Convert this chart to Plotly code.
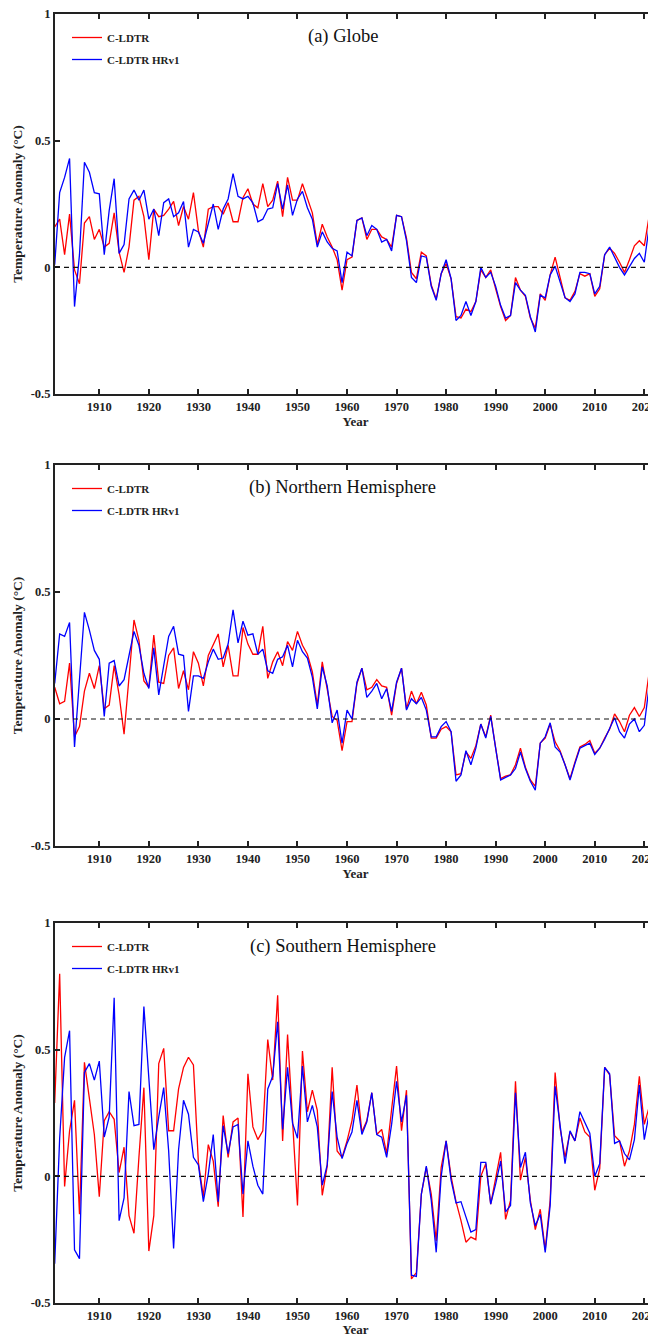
import plotly.graph_objects as go

# ---------------- data ----------------
years = list(range(1901, 2024))

globe_cldtr = [
    0.16, 0.19, 0.05, 0.21, -0.01, -0.065, 0.175, 0.20, 0.11, 0.15,
    0.08, 0.095, 0.215, 0.06, -0.02, 0.08, 0.265, 0.28, 0.20, 0.03,
    0.23, 0.20, 0.205, 0.23, 0.26, 0.165, 0.24, 0.19, 0.295, 0.145,
    0.08, 0.23, 0.24, 0.24, 0.21, 0.255, 0.18, 0.18, 0.275, 0.31,
    0.25, 0.235, 0.33, 0.24, 0.265, 0.34, 0.20, 0.355, 0.265, 0.265,
    0.33, 0.27, 0.215, 0.09, 0.17, 0.12, 0.08, 0.03, -0.09, 0.03,
    0.04, 0.185, 0.195, 0.11, 0.15, 0.15, 0.12, 0.11, 0.08, 0.205,
    0.20, 0.115, -0.02, -0.045, 0.06, 0.045, -0.07, -0.125, -0.025, 0.015,
    -0.045, -0.195, -0.20, -0.165, -0.175, -0.135, -0.01, -0.04, -0.01, -0.085,
    -0.155, -0.21, -0.19, -0.04, -0.09, -0.115, -0.20, -0.24, -0.105, -0.13,
    -0.03, 0.04, -0.045, -0.12, -0.13, -0.095, -0.025, -0.035, -0.025, -0.115,
    -0.085, 0.05, 0.075, 0.055, 0.02, -0.02, 0.03, 0.085, 0.105, 0.085,
    0.205, 0.145, 0.26,
]
globe_hrv1 = [
    0.01, 0.295, 0.355, 0.43, -0.155, 0.05, 0.415, 0.375, 0.295, 0.29,
    0.05, 0.225, 0.35, 0.055, 0.09, 0.27, 0.305, 0.265, 0.305, 0.19,
    0.23, 0.125, 0.255, 0.27, 0.20, 0.215, 0.26, 0.08, 0.15, 0.14,
    0.095, 0.175, 0.25, 0.15, 0.23, 0.27, 0.37, 0.28, 0.27, 0.28,
    0.255, 0.18, 0.19, 0.23, 0.235, 0.33, 0.23, 0.325, 0.205, 0.27,
    0.30, 0.235, 0.19, 0.08, 0.14, 0.10, 0.075, 0.065, -0.06, 0.06,
    0.045, 0.185, 0.195, 0.125, 0.165, 0.15, 0.10, 0.11, 0.065, 0.205,
    0.20, 0.105, -0.04, -0.06, 0.045, 0.04, -0.075, -0.13, -0.025, 0.03,
    -0.045, -0.21, -0.19, -0.135, -0.19, -0.135, 0.0, -0.04, -0.02, -0.075,
    -0.15, -0.20, -0.19, -0.06, -0.09, -0.11, -0.195, -0.255, -0.11, -0.12,
    -0.03, 0.005, -0.06, -0.12, -0.135, -0.105, -0.02, -0.02, -0.025, -0.105,
    -0.075, 0.05, 0.08, 0.04, 0.0, -0.03, 0.0, 0.035, 0.055, 0.02,
    0.165, 0.085, 0.20,
]

nh_cldtr = [
    0.125, 0.06, 0.07, 0.22, -0.07, -0.03, 0.11, 0.18, 0.12, 0.21,
    0.04, 0.055, 0.21, 0.095, -0.06, 0.18, 0.39, 0.31, 0.15, 0.125,
    0.33, 0.145, 0.14, 0.25, 0.28, 0.12, 0.19, 0.115, 0.265, 0.22,
    0.13, 0.25, 0.29, 0.335, 0.205, 0.29, 0.17, 0.17, 0.36, 0.295,
    0.255, 0.255, 0.365, 0.16, 0.225, 0.265, 0.21, 0.305, 0.27, 0.345,
    0.29, 0.255, 0.185, 0.055, 0.225, 0.125, 0.01, -0.005, -0.125, -0.01,
    -0.01, 0.14, 0.20, 0.115, 0.125, 0.155, 0.13, 0.125, 0.015, 0.14,
    0.20, 0.04, 0.11, 0.06, 0.105, 0.055, -0.075, -0.075, -0.04, -0.03,
    -0.05, -0.22, -0.215, -0.13, -0.155, -0.105, -0.02, -0.07, 0.015, -0.115,
    -0.235, -0.225, -0.22, -0.18, -0.115, -0.19, -0.24, -0.265, -0.095, -0.075,
    -0.02, -0.09, -0.125, -0.18, -0.235, -0.17, -0.11, -0.10, -0.085, -0.135,
    -0.115, -0.075, -0.04, 0.02, -0.01, -0.05, 0.015, 0.045, 0.01, 0.045,
    0.185, 0.13, 0.14,
]
nh_hrv1 = [
    0.14, 0.335, 0.325, 0.38, -0.11, 0.14, 0.42, 0.35, 0.27, 0.235,
    0.01, 0.22, 0.23, 0.13, 0.155, 0.25, 0.345, 0.29, 0.18, 0.12,
    0.28, 0.095, 0.215, 0.325, 0.365, 0.255, 0.25, 0.03, 0.17, 0.17,
    0.16, 0.225, 0.275, 0.235, 0.24, 0.295, 0.43, 0.30, 0.385, 0.33,
    0.335, 0.255, 0.275, 0.19, 0.18, 0.235, 0.245, 0.29, 0.205, 0.31,
    0.265, 0.24, 0.165, 0.04, 0.205, 0.13, -0.015, 0.035, -0.095, 0.035,
    0.0, 0.145, 0.20, 0.085, 0.11, 0.14, 0.08, 0.12, 0.03, 0.145,
    0.20, 0.035, 0.08, 0.06, 0.085, 0.035, -0.07, -0.07, -0.03, -0.01,
    -0.05, -0.245, -0.22, -0.125, -0.18, -0.115, -0.02, -0.075, 0.01, -0.115,
    -0.24, -0.23, -0.22, -0.195, -0.13, -0.195, -0.245, -0.28, -0.095, -0.07,
    -0.015, -0.11, -0.13, -0.18, -0.24, -0.175, -0.115, -0.105, -0.095, -0.14,
    -0.115, -0.08, -0.04, 0.005, -0.05, -0.075, -0.02, 0.0, -0.05, -0.025,
    0.135, 0.065, 0.08,
]

sh_cldtr = [
    0.29, 0.80, -0.04, 0.18, 0.30, -0.15, 0.45, 0.31, 0.165, -0.08,
    0.22, 0.255, 0.225, 0.015, 0.115, -0.155, -0.225, 0.075, 0.35, -0.295,
    -0.155, 0.445, 0.505, 0.18, 0.18, 0.345, 0.43, 0.47, 0.44, 0.055,
    -0.08, 0.125, 0.06, -0.12, 0.24, 0.075, 0.215, 0.23, -0.16, 0.405,
    0.195, 0.145, 0.18, 0.54, 0.38, 0.715, 0.14, 0.56, 0.235, -0.115,
    0.495, 0.255, 0.34, 0.26, -0.075, 0.04, 0.43, 0.10, 0.075, 0.14,
    0.22, 0.36, 0.175, 0.22, 0.33, 0.165, 0.185, 0.09, 0.265, 0.435,
    0.18, 0.34, -0.405, -0.38, -0.07, 0.035, -0.07, -0.255, 0.035, 0.14,
    0.0, -0.10, -0.175, -0.26, -0.24, -0.25, 0.0, 0.05, -0.11, 0.0,
    0.095, -0.17, -0.095, 0.375, -0.015, 0.075, -0.095, -0.21, -0.13, -0.29,
    -0.095, 0.41, 0.19, 0.075, 0.175, 0.14, 0.23, 0.175, 0.155, -0.055,
    0.03, 0.43, 0.40, 0.16, 0.14, 0.04, 0.10, 0.205, 0.395, 0.205,
    0.275, 0.195, 0.50,
]
sh_hrv1 = [
    -0.345, 0.15, 0.47, 0.575, -0.29, -0.325, 0.41, 0.445, 0.38, 0.455,
    0.155, 0.235, 0.705, -0.175, -0.085, 0.335, 0.20, 0.205, 0.67, 0.405,
    0.105, 0.235, 0.35, 0.10, -0.285, 0.105, 0.30, 0.245, 0.075, 0.045,
    -0.10, 0.01, 0.165, -0.10, 0.20, 0.09, 0.195, 0.205, -0.07, 0.14,
    0.04, -0.035, -0.07, 0.345, 0.395, 0.61, 0.185, 0.43, 0.21, 0.15,
    0.435, 0.215, 0.28, 0.195, -0.035, 0.045, 0.335, 0.155, 0.07, 0.13,
    0.175, 0.30, 0.165, 0.215, 0.33, 0.165, 0.155, 0.075, 0.205, 0.375,
    0.215, 0.32, -0.39, -0.395, -0.07, 0.04, -0.095, -0.30, 0.0, 0.14,
    -0.015, -0.105, -0.10, -0.16, -0.22, -0.21, 0.055, 0.055, -0.11, -0.03,
    0.06, -0.14, -0.115, 0.33, 0.035, 0.095, -0.105, -0.195, -0.15, -0.30,
    -0.115, 0.355, 0.19, 0.05, 0.18, 0.14, 0.255, 0.215, 0.17, 0.0,
    0.05, 0.43, 0.405, 0.13, 0.14, 0.09, 0.065, 0.145, 0.36, 0.145,
    0.25, 0.15, 0.30,
]

panel_titles = ["(a) Globe", "(b) Northern Hemisphere", "(c) Southern Hemisphere"]
series_names = ["C-LDTR", "C-LDTR HRv1"]
x_tickvals = [1910, 1920, 1930, 1940, 1950, 1960, 1970, 1980, 1990, 2000, 2010, 2020]
y_tickvals = [-0.5, 0, 0.5, 1]
y_ticktext = ["-0.5", "0", "0.5", "1"]

# ---------------- layout geometry ----------------
# The page body has an 8 px default margin, so all reference positions are
# shifted by OFF and the figure is sized to the remaining window area.
OFF = 8
W, H = 656 - OFF, 1337 - OFF
ML, MR = 55 - OFF, 0
MT = 14 - OFF
MB = H - (1303 - OFF)
PW, PH = W - ML - MR, H - MT - MB


def py(ref_y):
    """reference-picture y pixel -> paper fraction"""
    return (H - MB - (ref_y - OFF)) / PH


def pxf(ref_x):
    """reference-picture x pixel -> paper fraction"""
    return ((ref_x - OFF) - ML) / PW


# (top px, bottom px) of each panel in the reference picture
panel_px = [(14, 394), (465, 846), (923, 1303)]
SERIF = "Liberation Serif"
AX = "#222222"
RED, BLUE = "#ff0000", "#0000ff"

panels = [
    (globe_cldtr, globe_hrv1),
    (nh_cldtr, nh_hrv1),
    (sh_cldtr, sh_hrv1),
]

fig = go.Figure()
for i, (red_vals, blue_vals) in enumerate(panels):
    n = i + 1
    xa = "x" if n == 1 else f"x{n}"
    ya = "y" if n == 1 else f"y{n}"
    leg = "legend" if n == 1 else f"legend{n}"
    fig.add_trace(go.Scatter(
        x=years, y=red_vals, mode="lines", name=series_names[0],
        line=dict(color=RED, width=1.3), xaxis=xa, yaxis=ya,
        legend=leg, legendgroup=f"r{n}", cliponaxis=True))
    fig.add_trace(go.Scatter(
        x=years, y=blue_vals, mode="lines", name=series_names[1],
        line=dict(color=BLUE, width=1.3), xaxis=xa, yaxis=ya,
        legend=leg, legendgroup=f"b{n}", cliponaxis=True))

layout = dict(
    width=W, height=H,
    margin=dict(l=ML, r=MR, t=MT, b=MB, pad=0, autoexpand=False),
    paper_bgcolor="white", plot_bgcolor="white",
    font=dict(family=SERIF, color="#111111"),
    shapes=[], annotations=[],
)

for i in range(3):
    n = i + 1
    top, bot = panel_px[i]
    dom = [py(bot), py(top)]
    xkey = "xaxis" if n == 1 else f"xaxis{n}"
    ykey = "yaxis" if n == 1 else f"yaxis{n}"
    xid = "x" if n == 1 else f"x{n}"
    yid = "y" if n == 1 else f"y{n}"
    layout[xkey] = dict(
        domain=[0, 1], anchor=yid, range=[1901.06, 2022.36], automargin=False,
        tickvals=x_tickvals, ticks="inside", ticklen=5, tickwidth=1.5,
        tickcolor=AX, showline=True, linewidth=2, linecolor=AX,
        mirror="ticks", showgrid=False, zeroline=False,
        ticklabeloverflow="allow",
        tickfont=dict(family=SERIF, size=12.5, weight="bold", color="#222"),
        title=dict(text="Year", standoff=3,
                   font=dict(family=SERIF, size=13, weight="bold", color="#222")),
    )
    layout[ykey] = dict(
        domain=dom, anchor=xid, range=[-0.5, 1], automargin=False,
        tickvals=y_tickvals, ticktext=y_ticktext, ticks="inside",
        ticklen=5, tickwidth=1.5, tickcolor=AX,
        showline=True, linewidth=2, linecolor=AX, mirror=False,
        showgrid=False, zeroline=False, ticklabeloverflow="allow",
        tickfont=dict(family=SERIF, size=12.5, weight="bold", color="#222"),
        title=dict(text="Temperature Anomaly (°C)", standoff=5,
                   font=dict(family=SERIF, size=13.5, weight="bold", color="#222")),
    )
    # right-hand tick marks without a border line
    rkey = f"yaxis{n + 3}"
    layout[rkey] = dict(
        overlaying=yid, anchor=xid, side="right", range=[-0.5, 1],
        automargin=False,
        tickvals=y_tickvals, ticks="inside", ticklen=5, tickwidth=1.5,
        tickcolor=AX, showticklabels=False, showline=False,
        showgrid=False, zeroline=False,
    )
    # dashed zero line
    layout["shapes"].append(dict(
        type="line", xref=f"{xid} domain", yref=yid, x0=0, x1=1, y0=0, y1=0,
        line=dict(color="#111", width=1.2, dash="5px,4px"), layer="above"))
    # panel title
    layout["annotations"].append(dict(
        text=panel_titles[i], xref="paper", yref="paper",
        x=pxf(342.5), y=py(top + 23), xanchor="center", yanchor="middle",
        showarrow=False, font=dict(family=SERIF, size=18.5, color="#111")))
    # legend for this panel
    lkey = "legend" if n == 1 else f"legend{n}"
    layout[lkey] = dict(
        x=pxf(67), y=py(top + 9), xanchor="left", yanchor="top",
        bgcolor="rgba(0,0,0,0)", borderwidth=0, tracegroupgap=3,
        font=dict(family=SERIF, size=11, weight="bold", color="#222"),
    )

fig.update_layout(**layout)
fig.write_html("out.html")
